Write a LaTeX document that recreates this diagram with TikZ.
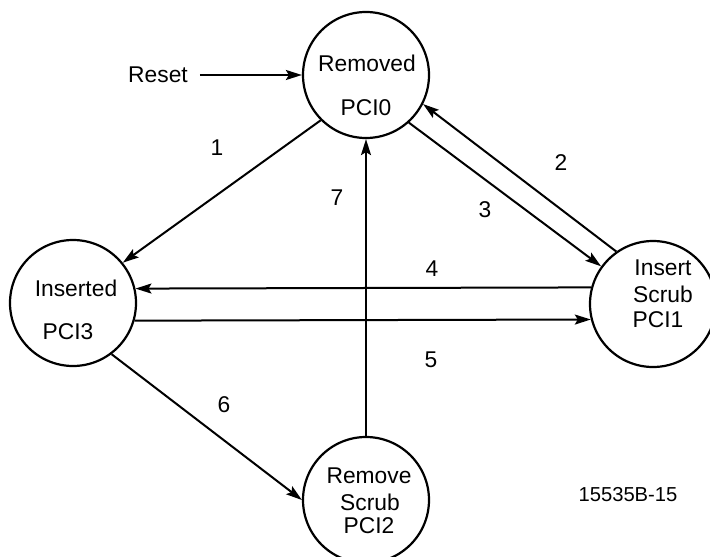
\documentclass[tikz,border=0pt]{standalone}
\usepackage{fontspec}
\setmainfont{Liberation Sans}
\usetikzlibrary{arrows.meta}
\begin{document}
\begin{tikzpicture}[x=1pt,y=-1pt,
  state/.style={circle,draw,line width=2.2pt,minimum size=126pt,inner sep=0pt},
  txt/.style={inner sep=0pt,font=\fontsize{22.8}{27}\selectfont},
  num/.style={inner sep=0pt,font=\fontsize{22.8}{27}\selectfont},
  arr/.style={line width=2pt,-{Stealth[length=16pt,width=10pt,inset=3pt]}},
  plain/.style={line width=2pt}]
\fill[white] (0,0) rectangle (710,557);
\useasboundingbox (0,0) rectangle (710,557);
% states
\node[state] (removed) at (366,75) {};
\node[state] (inserted) at (73,303) {};
\node[state] (iscrub) at (653,304) {};
\node[state] (rscrub) at (366,500) {};
% state texts
\node[txt] (t0a) at (367,63) {Removed};
\node[txt] (t0b) at (366,108) {PCI0};
\node[txt] (t3a) at (76,288) {Inserted};
\node[txt] (t3b) at (68,332) {PCI3};
\node[txt] (t1a) at (663,268) {Insert};
\node[txt] (t1b) at (663,294) {Scrub};
\node[txt] (t1c) at (658,320) {PCI1};
\node[txt] (t2a) at (369,476) {Remove};
\node[txt] (t2b) at (370,502) {Scrub};
\node[txt] (t2c) at (369,526) {PCI2};
% reset
\node[txt] (reset) at (158,75) {Reset};
\draw[arr,shorten <=12pt] (reset.east) -- (removed.west);
% transitions
\draw[arr] (removed.225.6) -- (inserted.39.4);
\draw[arr] (iscrub.125.4) -- (removed.333);
\draw[arr] (removed.312.5) -- (iscrub.144);
\draw[arr] (iscrub.165.3) -- (inserted.13.8);
\draw[arr] (inserted.344.4) -- (iscrub.194.7);
\draw[arr] (inserted.307.6) -- (rscrub.west);
\draw[arr] (rscrub.north) -- (removed.south);
% labels
\node[num] (l1) at (217,148) {1};
\node[num] (l2) at (561,163) {2};
\node[num] (l3) at (485,210) {3};
\node[num] (l4) at (432,269) {4};
\node[num] (l5) at (431,360) {5};
\node[num] (l6) at (224,405) {6};
\node[num] (l7) at (337,198) {7};
\node[inner sep=0pt,font=\fontsize{20.2}{24}\selectfont] (id) at (628,495) {15535B-15};
\end{tikzpicture}
\end{document}
